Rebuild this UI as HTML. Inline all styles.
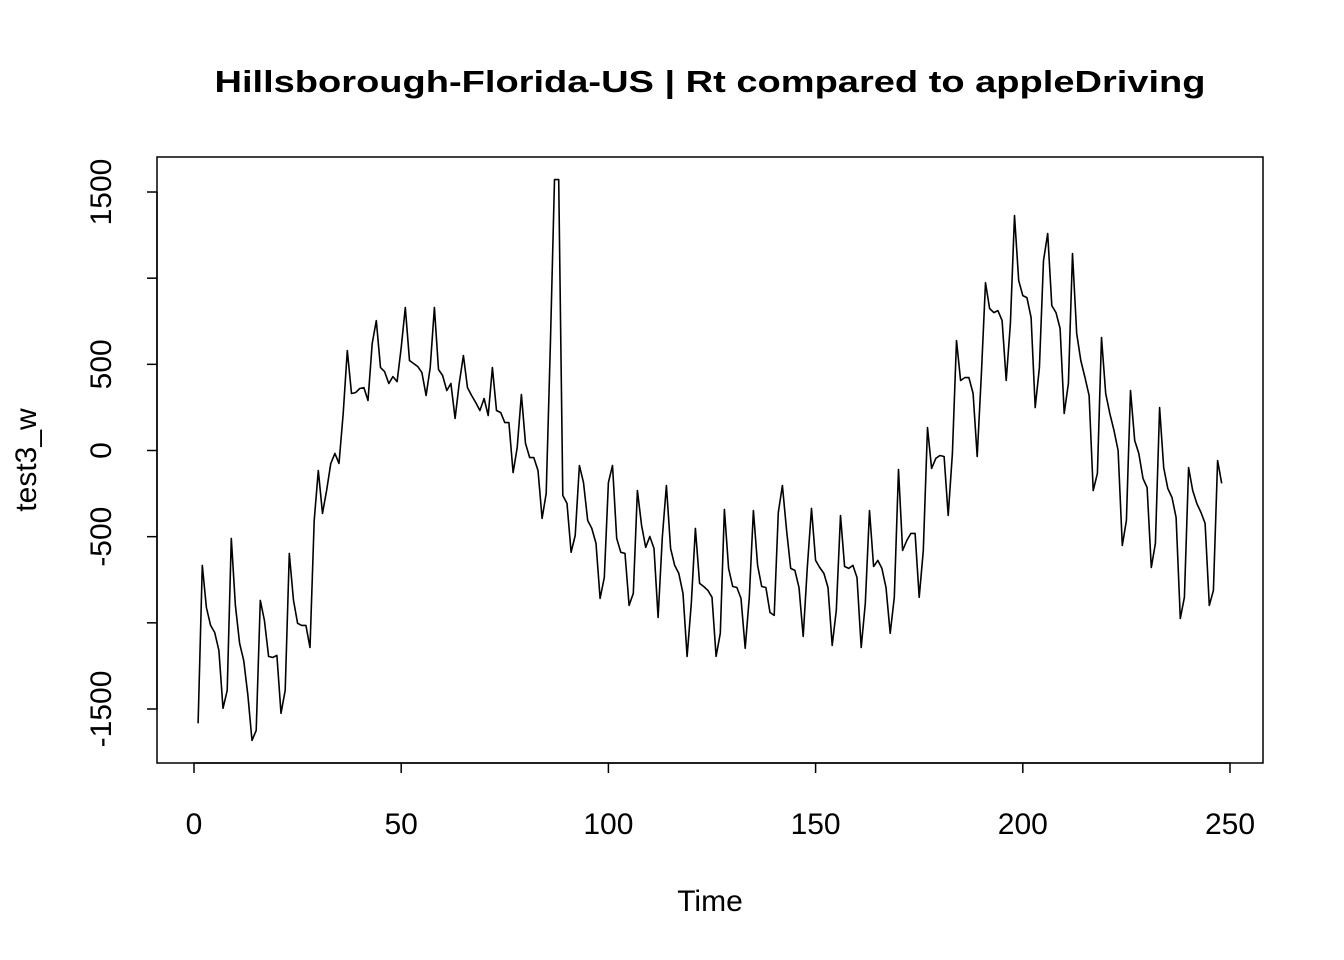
<!DOCTYPE html>
<html><head><meta charset="utf-8"><style>body{margin:0;background:#fff}svg{display:block}text{font-family:"Liberation Sans",Arial,sans-serif;fill:#000}</style></head>
<body>
<svg id="chart" width="1344" height="960" viewBox="0 0 1344 960" xmlns="http://www.w3.org/2000/svg">
<rect x="0" y="0" width="1344" height="960" fill="#fff"/>
<text x="710" y="92" text-anchor="middle" font-size="31" font-weight="bold" textLength="991" lengthAdjust="spacingAndGlyphs">Hillsborough-Florida-US | Rt compared to appleDriving</text>
<rect x="157" y="157" width="1106" height="606" fill="none" stroke="#000" stroke-width="1.5"/>
<g id="xaxis"></g>
<g id="yaxis"></g>
<text x="710" y="911" text-anchor="middle" font-size="30">Time</text>
<text transform="translate(36,460) rotate(-90)" text-anchor="middle" font-size="30">test3_w</text>
<g id="series"></g>
</svg>
<script>
const values = [-1583,-667,-911,-1015,-1056,-1160,-1496,-1392,-510,-899,-1119,-1218,-1421,-1682,-1624,-870,-986,-1195,-1201,-1189,-1525,-1392,-597,-870,-1003,-1015,-1015,-1143,-406,-116,-365,-232,-75,-17,-75,215,580,331,336,360,365,290,621,754,481,458,389,429,400,597,829,522,505,487,452,319,481,829,470,435,348,389,186,389,551,365,319,278,232,302,203,481,232,220,162,162,-128,17,325,41,-41,-41,-116,-394,-249,621,1572,1572,-261,-307,-591,-493,-87,-186,-406,-452,-539,-858,-737,-186,-87,-510,-591,-597,-899,-829,-232,-435,-562,-499,-568,-969,-505,-203,-568,-667,-713,-829,-1195,-887,-452,-771,-789,-812,-852,-1195,-1061,-342,-684,-789,-795,-858,-1148,-852,-348,-667,-789,-795,-940,-957,-360,-203,-464,-684,-696,-795,-1079,-679,-336,-638,-679,-713,-795,-1131,-928,-377,-673,-684,-667,-737,-1143,-887,-348,-673,-638,-684,-795,-1061,-852,-110,-580,-522,-481,-481,-852,-580,133,-104,-46,-29,-35,-377,-17,638,406,423,423,331,-35,447,974,824,800,812,754,406,737,1363,986,899,887,771,249,481,1102,1259,841,800,708,215,389,1143,679,522,423,319,-232,-133,655,331,215,116,0,-551,-406,348,58,-17,-162,-215,-679,-539,249,-99,-220,-273,-389,-975,-852,-99,-232,-307,-360,-423,-899,-812,-58,-191];
const xTicks = [0,50,100,150,200,250];
const yTicks = [-1500,-1000,-500,0,500,1000,1500];
const yTickLabels = ["-1500","","-500","0","500","","1500"];
const NS="http://www.w3.org/2000/svg";
function xs(t){return 194+(t/250)*1036;}
function ys(v){return 450.5-v*0.17233;}
const xa=document.getElementById('xaxis');
let ln=document.createElementNS(NS,'line');
ln.setAttribute('x1',xs(0));ln.setAttribute('x2',xs(250));ln.setAttribute('y1',763);ln.setAttribute('y2',763);ln.setAttribute('stroke','#000');ln.setAttribute('stroke-width','1.5');


xa.appendChild(ln);
xTicks.forEach(t=>{
 const l=document.createElementNS(NS,'line');
 l.setAttribute('x1',xs(t));l.setAttribute('x2',xs(t));l.setAttribute('y1',763);l.setAttribute('y2',773);l.setAttribute('stroke','#000');l.setAttribute('stroke-width','1.5');
 
 
 xa.appendChild(l);
 const tx=document.createElementNS(NS,'text');
 tx.setAttribute('x',xs(t));tx.setAttribute('y',834);tx.setAttribute('text-anchor','middle');tx.setAttribute('font-size','30');
 tx.textContent=String(t);
 
 
 xa.appendChild(tx);
});
const ya=document.getElementById('yaxis');
let yl=document.createElementNS(NS,'line');
yl.setAttribute('x1',157);yl.setAttribute('x2',157);yl.setAttribute('y1',ys(-1500));yl.setAttribute('y2',ys(1500));yl.setAttribute('stroke','#000');yl.setAttribute('stroke-width','1.5');


ya.appendChild(yl);
yTicks.forEach((v,i)=>{
 const l=document.createElementNS(NS,'line');
 l.setAttribute('x1',147);l.setAttribute('x2',157);l.setAttribute('y1',ys(v));l.setAttribute('y2',ys(v));l.setAttribute('stroke','#000');l.setAttribute('stroke-width','1.5');
 
 
 ya.appendChild(l);
 if(yTickLabels[i]){
  const tx=document.createElementNS(NS,'text');
  tx.setAttribute('transform','translate(111,'+ys(v)+') rotate(-90)');tx.setAttribute('text-anchor','middle');tx.setAttribute('font-size','30');
  tx.textContent=yTickLabels[i];
  
  
  ya.appendChild(tx);
 }
});
const pl=document.createElementNS(NS,'polyline');
pl.setAttribute('points',values.map((v,i)=>xs(i+1).toFixed(1)+','+ys(v).toFixed(1)).join(' '));
pl.setAttribute('fill','none');pl.setAttribute('stroke','#000');pl.setAttribute('stroke-width','1.6');pl.setAttribute('stroke-linejoin','round');


document.getElementById('series').appendChild(pl);
</script>
</body></html>
